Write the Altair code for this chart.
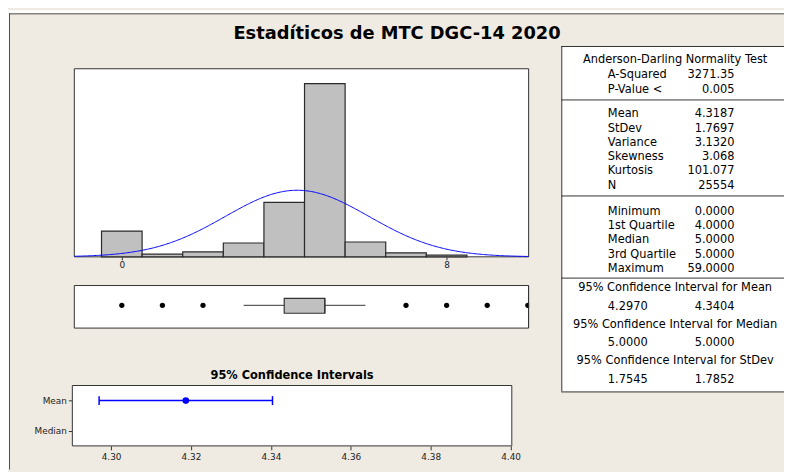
import altair as alt
import pandas as pd

# ---------------- data ----------------
title_text = "Estadíticos de MTC DGC-14 2020"

bin_centers = [0, 1, 2, 3, 4, 5, 6, 7, 8]
bin_counts = [2227, 228, 428, 1199, 4711, 14990, 1285, 343, 143]
bin_width = 1.0
hist_ticks = [0, 8]

mean_val = 4.3187
stdev_val = 1.7697
n_obs = 25554

q1_val = 4.0
median_val = 5.0
q3_val = 5.0
whisker_low = 3.0
whisker_high = 6.0
outlier_values = [0, 1, 2, 7, 8, 9, 10]

ci_rows = ["Mean", "Median"]
ci_low = [4.2970, 5.0000]
ci_high = [4.3404, 5.0000]
ci_center = [4.3187, 5.0000]
ci_ticks = [4.30, 4.32, 4.34, 4.36, 4.38, 4.40]
ci_title = "95% Confidence Intervals"

table_header = "Anderson-Darling Normality Test"
ad_labels = ["A-Squared", "P-Value <"]
ad_values = ["3271.35", "0.005"]
moment_labels = ["Mean", "StDev", "Variance", "Skewness", "Kurtosis", "N"]
moment_values = ["4.3187", "1.7697", "3.1320", "3.068", "101.077", "25554"]
quant_labels = ["Minimum", "1st Quartile", "Median", "3rd Quartile", "Maximum"]
quant_values = ["0.0000", "4.0000", "5.0000", "5.0000", "59.0000"]
ci_table_titles = ["95% Confidence Interval for Mean",
                   "95% Confidence Interval for Median",
                   "95% Confidence Interval for StDev"]
ci_table_low = ["4.2970", "5.0000", "1.7545"]
ci_table_high = ["4.3404", "5.0000", "1.7852"]

# ---------------- layout / style (page pixels, origin = page (8, 8)) ----------------
FONT = "DejaVu Sans"
BEIGE = "#EFEBE2"
DARK = "#333333"
BLUE = "#0000FF"
GRAY = "#C0C0C0"
W, H = 784, 464
O = 8  # page offset of the chart origin


def p(v):
    return v - O


HIST = dict(x0=75, x1=534, y0=67, y1=257)
BOX = dict(x0=75, x1=534, y0=286, y1=329, yc=306, b0=299, b1=314)
CI = dict(x0=73, x1=517, y0=387, y1=448)
TAB = dict(x0=567, x1=792, y0=44, y1=393)

hist_dom = [-1.17, 10.02]
ci_dom = [4.2903, 4.4003]

one = pd.DataFrame({"k": [0]})


def hx():
    return alt.Scale(domain=hist_dom, range=[p(HIST["x0"]), p(HIST["x1"])], nice=False, zero=False)


def hy():
    return alt.Scale(domain=[0, 16274], range=[p(HIST["y1"]), p(HIST["y0"])], nice=False, zero=True)


def cx():
    return alt.Scale(domain=ci_dom, range=[p(CI["x0"]), p(CI["x1"])], nice=False, zero=False)


def cy():
    return alt.Scale(type="point", domain=ci_rows, range=[p(CI["y0"]), p(CI["y1"])], padding=0.5)


def rect(x0, x1, y0, y1, fill="white", stroke=None, sw=1):
    kw = dict(fill=fill)
    if stroke:
        kw.update(stroke=stroke, strokeWidth=sw)
    return alt.Chart(one).mark_rect(**kw).encode(
        x=alt.value(x0), x2=alt.value(x1), y=alt.value(y0), y2=alt.value(y1))


def hline(x0, x1, y, color=DARK):
    return alt.Chart(one).mark_rule(color=color, strokeWidth=1).encode(
        x=alt.value(x0), x2=alt.value(x1), y=alt.value(y))


def vline(x, y0, y1, color=DARK):
    return alt.Chart(one).mark_rule(color=color, strokeWidth=1).encode(
        x=alt.value(x), y=alt.value(y0), y2=alt.value(y1))


layers = []

# page margin strips (white) and outer frame
layers.append(rect(0, W, 0, 3))
layers.append(rect(0, 1, 0, H))
layers.append(vline(1.5, 3, H, "#4a4a4a"))
layers.append(hline(1, W, 3.5, "#4a4a4a"))

# panel backgrounds
layers.append(rect(p(HIST["x0"]), p(HIST["x1"]), p(HIST["y0"]), p(HIST["y1"]), stroke=DARK))
layers.append(rect(p(BOX["x0"]), p(BOX["x1"]), p(BOX["y0"]), p(BOX["y1"]), stroke=DARK))
layers.append(rect(p(CI["x0"]), p(CI["x1"]), p(CI["y0"]), p(CI["y1"]), stroke=DARK))
layers.append(rect(p(TAB["x0"]), W, p(TAB["y0"]), p(TAB["y1"])))
layers.append(vline(p(TAB["x0"]) + 0.5, p(TAB["y0"]), p(TAB["y1"])))
for yy in [TAB["y0"], 98, 195, 278, TAB["y1"]]:
    layers.append(hline(p(TAB["x0"]), W, p(yy) + 0.5))

# ---------------- histogram ----------------
hist_df = pd.DataFrame({"center": bin_centers, "count": bin_counts})
hist_df["lo"] = hist_df["center"] - bin_width / 2
hist_df["hi"] = hist_df["center"] + bin_width / 2

hist_axis = alt.Axis(values=hist_ticks, title=None, grid=False, domain=False, orient="bottom",
                     offset=p(HIST["y1"]) - H, tickSize=3, tickColor=DARK, labelFontSize=9,
                     labelColor="#222", labelPadding=1, labelFont=FONT, format="d")

layers.append(alt.Chart(hist_df).mark_rect(fill=GRAY, stroke="#2a2a2a", strokeWidth=1.2).encode(
    x=alt.X("lo:Q", scale=hx(), axis=hist_axis),
    x2="hi:Q",
    y=alt.Y("count:Q", scale=hy(), axis=None),
    y2=alt.datum(0),
))

density_expr = (f"{n_obs}*{bin_width}*exp(-0.5*pow((datum.x-{mean_val})/{stdev_val},2))"
                f"/({stdev_val}*sqrt(2*PI))")
layers.append(alt.Chart(alt.sequence(hist_dom[0], hist_dom[1] + 0.015, 0.03, as_="x")).transform_calculate(
    density=density_expr
).mark_line(color=BLUE, strokeWidth=1).encode(
    x=alt.X("x:Q", scale=hx(), axis=None),
    y=alt.Y("density:Q", scale=hy(), axis=None),
))

# ---------------- boxplot ----------------
box_df = pd.DataFrame({"q1": [q1_val], "q3": [q3_val], "med": [median_val],
                       "wl": [whisker_low], "wh": [whisker_high]})
yc = p(BOX["yc"])
layers.append(alt.Chart(box_df).mark_rule(color=DARK, strokeWidth=1).encode(
    x=alt.X("wl:Q", scale=hx(), axis=None), x2="q1:Q", y=alt.value(yc)))
layers.append(alt.Chart(box_df).mark_rule(color=DARK, strokeWidth=1).encode(
    x=alt.X("q3:Q", scale=hx(), axis=None), x2="wh:Q", y=alt.value(yc)))
layers.append(alt.Chart(box_df).mark_rect(fill=GRAY, stroke=DARK, strokeWidth=1.2).encode(
    x=alt.X("q1:Q", scale=hx(), axis=None), x2="q3:Q",
    y=alt.value(p(BOX["b0"])), y2=alt.value(p(BOX["b1"]))))
layers.append(alt.Chart(box_df).mark_rule(color=DARK, strokeWidth=1.2).encode(
    x=alt.X("med:Q", scale=hx(), axis=None),
    y=alt.value(p(BOX["b0"])), y2=alt.value(p(BOX["b1"]))))
layers.append(alt.Chart(pd.DataFrame({"v": outlier_values})).mark_point(
    filled=True, color="black", size=28, opacity=1, shape="circle"
).encode(x=alt.X("v:Q", scale=hx(), axis=None), y=alt.value(yc)))
# the box panel clips the outlier that sits on its right edge
layers.append(rect(p(BOX["x1"]) + 0.5, p(BOX["x1"]) + 6, p(BOX["y0"]) - 1, p(BOX["y1"]) + 1, fill=BEIGE))
layers.append(vline(p(BOX["x1"]), p(BOX["y0"]), p(BOX["y1"])))

# ---------------- confidence intervals ----------------
ci_df = pd.DataFrame({"row": ci_rows, "lo": ci_low, "hi": ci_high, "c": ci_center})
ci_vis = alt.datum.hi <= ci_dom[1]
ci_xaxis = alt.Axis(values=ci_ticks, format=".2f", title=None, grid=False, domain=False,
                    orient="bottom", offset=p(CI["y1"]) - H, tickSize=4, tickColor=DARK,
                    labelFontSize=9, labelColor="#222", labelPadding=3, labelFont=FONT)
ci_yaxis = alt.Axis(title=None, grid=False, domain=False, orient="left", offset=-p(CI["x0"]),
                    tickSize=4, tickColor=DARK, labelFontSize=9, labelColor="#222",
                    labelPadding=2, labelFont=FONT)

layers.append(alt.Chart(ci_df).transform_filter(ci_vis).mark_rule(color=BLUE, strokeWidth=1.5).encode(
    x=alt.X("lo:Q", scale=cx(), axis=ci_xaxis), x2="hi:Q",
    y=alt.Y("row:N", scale=cy(), axis=ci_yaxis)))
layers.append(alt.Chart(ci_df).transform_filter(ci_vis).transform_fold(
    ["lo", "hi"], as_=["end", "val"]).mark_tick(
    color=BLUE, thickness=1.5, size=9, opacity=1
).encode(x=alt.X("val:Q", scale=cx(), axis=None),
         y=alt.Y("row:N", scale=cy(), axis=None)))
layers.append(alt.Chart(ci_df).transform_filter(ci_vis).mark_circle(
    color=BLUE, size=45, opacity=1).encode(
    x=alt.X("c:Q", scale=cx(), axis=None),
    y=alt.Y("row:N", scale=cy(), axis=None)))

# ---------------- texts ----------------
layers.append(alt.Chart(pd.DataFrame({"t": [title_text]})).mark_text(
    font=FONT, fontSize=18, fontWeight="bold", align="center",
    baseline="alphabetic", color="black"
).encode(text="t:N", x=alt.value(p(401)), y=alt.value(p(37))))

layers.append(alt.Chart(pd.DataFrame({"t": [ci_title]})).mark_text(
    font=FONT, fontSize=11.5, fontWeight="bold", align="center",
    baseline="middle", color="black"
).encode(text="t:N", x=alt.value(p((CI["x0"] + CI["x1"]) / 2)), y=alt.value(p(377))))

LBL_X, VAL_X, MID_X = p(614), p(742), p(682)
rows = [{"t": table_header, "x": MID_X, "y": p(58), "a": "center"}]
for i, (l, v) in enumerate(zip(ad_labels, ad_values)):
    y = p(73 + i * 15)
    rows += [{"t": l, "x": LBL_X, "y": y, "a": "left"}, {"t": v, "x": VAL_X, "y": y, "a": "right"}]
for i, (l, v) in enumerate(zip(moment_labels, moment_values)):
    y = p(113 + i * 14.4)
    rows += [{"t": l, "x": LBL_X, "y": y, "a": "left"}, {"t": v, "x": VAL_X, "y": y, "a": "right"}]
for i, (l, v) in enumerate(zip(quant_labels, quant_values)):
    y = p(212 + i * 14.25)
    rows += [{"t": l, "x": LBL_X, "y": y, "a": "left"}, {"t": v, "x": VAL_X, "y": y, "a": "right"}]
for i, (h, lo, hi) in enumerate(zip(ci_table_titles, ci_table_low, ci_table_high)):
    y = p(289 + i * 36.8)
    rows += [{"t": h, "x": MID_X, "y": y, "a": "center"},
             {"t": lo, "x": LBL_X, "y": y + 18.4, "a": "left"},
             {"t": hi, "x": VAL_X, "y": y + 18.4, "a": "right"}]
tab_df = pd.DataFrame(rows)

for align in ["left", "right", "center"]:
    layers.append(alt.Chart(tab_df).transform_filter(alt.datum.a == align).mark_text(
        font=FONT, fontSize=11.5, align=align, baseline="middle", color="black"
    ).encode(text="t:N", x=alt.X("x:Q", scale=None, axis=None),
             y=alt.Y("y:Q", scale=None, axis=None)))

chart = alt.layer(*layers).resolve_scale(
    x="independent", y="independent"
).resolve_axis(x="independent", y="independent").properties(
    width=W, height=H,
    autosize=alt.AutoSizeParams(type="none"),
    padding=0,
).configure(background=BEIGE, font=FONT).configure_view(strokeWidth=0, fill=BEIGE)

chart.save("out.html", embed_options={"renderer": "svg", "actions": False})
